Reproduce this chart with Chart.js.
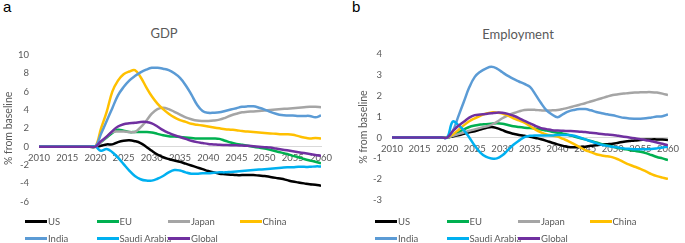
<!DOCTYPE html>
<html><head><meta charset="utf-8">
<script src="https://cdn.jsdelivr.net/npm/chart.js@4"></script>
<style>
html,body{margin:0;padding:0;background:#fff;width:685px;height:243px;overflow:hidden;font-family:Lato,sans-serif;position:relative;}
canvas{position:absolute;top:0;}
.lbl{position:absolute;top:-2px;font-family:'Liberation Sans',Arial,sans-serif;font-size:15px;color:#000;}
.ttl{position:absolute;font-size:13px;color:#595959;transform:translate(-50%,-50%);white-space:nowrap;font-family:Lato,sans-serif;}
.leg{position:absolute;height:12px;font-size:9.5px;color:#595959;white-space:nowrap;display:flex;align-items:center;font-family:Lato,sans-serif;}
.leg i{display:inline-block;width:22px;height:3px;margin-right:1px;}
</style></head><body>
<div class="lbl" style="left:3px">a</div>
<div class="lbl" style="left:352px">b</div>
<div class="ttl" style="left:164px;top:33px">GDP</div>
<div class="ttl" style="left:518px;top:34px">Employment</div>
<canvas id="cA" width="342" height="243" style="left:0"></canvas>
<canvas id="cB" width="343" height="243" style="left:342px"></canvas>
<div id="legA"></div><div id="legB"></div>
<script>
const years = [2010,2011,2012,2013,2014,2015,2016,2017,2018,2019,2020,2021,2022,2023,2024,2025,2026,2027,2028,2029,2030,2031,2032,2033,2034,2035,2036,2037,2038,2039,2040,2041,2042,2043,2044,2045,2046,2047,2048,2049,2050,2051,2052,2053,2054,2055,2056,2057,2058,2059,2060];
const seriesNames = ['US','EU','Japan','China','India','Saudi Arabia','Global'];
const seriesColors = ['#000000','#00B050','#A5A5A5','#FFC000','#5B9BD5','#00B0F0','#7030A0'];
const yTitle = '% from baseline';

// GDP (% from baseline)
const gdpUS     = [0,0,0,0,0,0,0,0,0,0,0, 0.1,0.25,0.25,0.5,0.65,0.7,0.6,0.4,0.0,-0.45, -0.85,-1.15,-1.35,-1.5,-1.65,-1.85,-2.05,-2.25,-2.45,-2.65, -2.8,-2.95,-3.0,-3.05,-3.1,-3.1,-3.1,-3.1,-3.15,-3.2, -3.3,-3.4,-3.5,-3.65,-3.8,-3.9,-4.0,-4.1,-4.15,-4.25];
const gdpEU     = [0,0,0,0,0,0,0,0,0,0,0, 0.5,1.0,1.5,1.85,1.75,1.6,1.6,1.6,1.6,1.55, 1.4,1.25,1.15,1.1,1.05,1.0,0.95,0.9,0.9,0.9, 0.9,0.85,0.65,0.45,0.3,0.2,0.1,0.0,-0.1,-0.2, -0.35,-0.5,-0.65,-0.8,-1.0,-1.15,-1.35,-1.5,-1.65,-1.8];
const gdpJapan  = [0,0,0,0,0,0,0,0,0,0,0, 0.5,1.1,1.6,1.65,1.65,1.6,1.6,2.1,2.8,3.6, 4.1,4.25,4.1,3.8,3.5,3.2,3.0,2.85,2.8,2.8, 2.85,2.95,3.15,3.4,3.6,3.75,3.8,3.85,3.9,3.95, 4.0,4.05,4.1,4.15,4.2,4.25,4.3,4.35,4.35,4.3];
const gdpChina  = [0,0,0,0,0,0,0,0,0,0,0, 2.0,3.8,6.0,7.2,7.9,8.2,8.35,7.6,6.5,5.5, 4.7,4.1,3.6,3.2,2.9,2.7,2.5,2.4,2.3,2.2, 2.1,2.0,1.9,1.85,1.8,1.7,1.65,1.6,1.55,1.5, 1.45,1.4,1.35,1.35,1.3,1.15,1.0,0.9,0.95,0.9];
const gdpIndia  = [0,0,0,0,0,0,0,0,0,0,0, 1.4,2.8,4.2,5.6,6.5,7.2,7.7,8.1,8.4,8.6, 8.6,8.5,8.35,8.0,7.5,6.7,5.7,4.6,3.9,3.7, 3.7,3.75,3.9,4.05,4.2,4.35,4.4,4.4,4.25,4.05, 3.8,3.6,3.45,3.4,3.4,3.35,3.35,3.35,3.2,3.4];
const gdpSaudi  = [0,0,0,0,0,0,0,0,0,0,0, -0.45,-0.25,-0.6,-1.2,-1.9,-2.6,-3.2,-3.55,-3.7,-3.7, -3.5,-3.2,-2.8,-2.55,-2.6,-2.8,-2.95,-2.95,-2.9,-2.9, -2.85,-2.8,-2.8,-2.75,-2.7,-2.65,-2.6,-2.55,-2.5,-2.45, -2.4,-2.35,-2.3,-2.25,-2.25,-2.2,-2.2,-2.2,-2.15,-2.15];
const gdpGlobal = [0,0,0,0,0,0,0,0,0,0,0, 0.6,1.1,1.7,2.2,2.45,2.55,2.6,2.7,2.7,2.55, 2.2,1.8,1.5,1.25,1.05,0.85,0.65,0.5,0.4,0.3, 0.25,0.2,0.18,0.16,0.15,0.12,0.1,0.05,0.0,-0.05, -0.1,-0.2,-0.3,-0.4,-0.5,-0.6,-0.7,-0.8,-0.9,-1.0];

// Employment (% from baseline)
const empUS     = [0,0,0,0,0,0,0,0,0,0,0, 0.05,0.1,0.18,0.25,0.3,0.38,0.45,0.5,0.45,0.35, 0.25,0.18,0.12,0.08,0.04,-0.02,-0.08,-0.16,-0.25,-0.33, -0.4,-0.46,-0.47,-0.46,-0.44,-0.4,-0.37,-0.34,-0.32,-0.3, -0.25,-0.2,-0.17,-0.14,-0.12,-0.1,-0.09,-0.09,-0.1,-0.12];
const empEU     = [0,0,0,0,0,0,0,0,0,0,0, 0.1,0.25,0.38,0.5,0.57,0.62,0.64,0.66,0.68,0.66, 0.6,0.54,0.5,0.47,0.45,0.42,0.38,0.33,0.28,0.23, 0.18,0.12,0.05,-0.02,-0.09,-0.17,-0.24,-0.32,-0.38,-0.44, -0.5,-0.55,-0.6,-0.64,-0.68,-0.75,-0.84,-0.93,-1.0,-1.08];
const empJapan  = [0,0,0,0,0,0,0,0,0,0,0, 0.08,0.16,0.24,0.32,0.39,0.46,0.53,0.6,0.75,0.92, 1.05,1.16,1.25,1.32,1.33,1.32,1.3,1.29,1.3,1.32, 1.37,1.43,1.5,1.57,1.64,1.72,1.8,1.88,1.96,2.03, 2.07,2.1,2.13,2.15,2.16,2.17,2.17,2.15,2.1,2.03];
const empChina  = [0,0,0,0,0,0,0,0,0,0,0, 0.15,0.35,0.58,0.78,0.92,1.04,1.14,1.2,1.19,1.15, 1.05,0.92,0.82,0.71,0.55,0.38,0.25,0.15,0.09,0.04, -0.07,-0.18,-0.32,-0.46,-0.6,-0.7,-0.8,-0.86,-0.9,-0.95, -1.05,-1.18,-1.3,-1.4,-1.5,-1.62,-1.75,-1.85,-1.92,-1.98];
const empIndia  = [0,0,0,0,0,0,0,0,0,0,0, 0.3,1.0,1.7,2.4,2.9,3.15,3.3,3.38,3.3,3.12, 2.95,2.8,2.68,2.56,2.42,2.05,1.65,1.3,1.1,0.97, 1.12,1.25,1.32,1.36,1.36,1.3,1.22,1.16,1.11,1.06, 1.0,0.94,0.91,0.9,0.9,0.92,0.96,1.0,1.02,1.1];
const empSaudi  = [0,0,0,0,0,0,0,0,0,0,0, 0.76,0.6,0.35,0.0,-0.4,-0.72,-0.92,-1.0,-1.0,-0.85, -0.6,-0.35,-0.15,0.02,0.08,0.1,0.1,0.1,0.1,0.12, 0.12,0.12,0.08,0.0,-0.09,-0.18,-0.27,-0.35,-0.4,-0.44, -0.48,-0.52,-0.54,-0.56,-0.56,-0.56,-0.55,-0.52,-0.48,-0.44];
const empGlobal = [0,0,0,0,0,0,0,0,0,0,0, 0.3,0.55,0.75,0.95,1.07,1.1,1.13,1.16,1.19,1.18, 1.13,1.04,0.93,0.8,0.68,0.55,0.45,0.4,0.35,0.33, 0.32,0.31,0.3,0.28,0.26,0.23,0.2,0.17,0.14,0.12, 0.08,0.04,0.0,-0.04,-0.08,-0.13,-0.18,-0.24,-0.3,-0.37];

const gdpSeries = [gdpUS,gdpEU,gdpJapan,gdpChina,gdpIndia,gdpSaudi,gdpGlobal];
const empSeries = [empUS,empEU,empJapan,empChina,empIndia,empSaudi,empGlobal];

const GREY = '#595959';
const tickFont = {family:'Lato', size:9.5};

function makeChart(id, series, yMin, yMax, yStep, pad, axisW, titlePad) {
  return new Chart(document.getElementById(id), {
    type: 'line',
    data: {
      datasets: seriesNames.map((n, i) => ({
        label: n,
        data: years.map((yr, k) => ({x: yr, y: series[i][k]})),
        borderColor: seriesColors[i],
        backgroundColor: seriesColors[i],
        borderWidth: 2.5,
        pointRadius: 0,
        tension: 0.4,
        fill: false,
        order: seriesNames.length - i
      }))
    },
    options: {
      responsive: false, animation: false, devicePixelRatio: 1,
      layout: {padding: pad},
      plugins: {legend: {display: false}, tooltip: {enabled: false}, title: {display: false}},
      scales: {
        x: {
          type: 'linear', min: 2010, max: 2060, position: {y: 0},
          grid: {display: false, drawTicks: false},
          border: {display: true, color: '#D9D9D9', width: 1},
          ticks: {stepSize: 5, padding: 6, color: GREY, font: tickFont, maxRotation: 0, autoSkip: false,
                  callback: v => String(v)}
        },
        y: {
          min: yMin, max: yMax,
          grid: {display: false, drawTicks: false},
          border: {display: false},
          ticks: {stepSize: yStep, padding: 10, color: GREY, font: tickFont},
          title: {display: true, text: yTitle, color: GREY, font: {family: 'Lato', size: 10.5}, padding: {top: titlePad, bottom: 0}},
          afterFit: s => { s.width = axisW; }
        }
      }
    }
  });
}

makeChart('cA', gdpSeries, -6, 10, 2, {left: 0, right: 21, top: 55, bottom: 41.3}, 39, 2);
makeChart('cB', empSeries, -3, 4, 1, {left: 0, right: 12, top: 53.9, bottom: 42.8}, 50, 15);

function buildLegend(id, baseX) {
  const el = document.getElementById(id);
  seriesNames.forEach((n, i) => {
    const row = i < 4 ? 0 : 1;
    const col = i < 4 ? i : i - 4;
    const d = document.createElement('div');
    d.className = 'leg';
    d.style.left = (baseX + col * 71.5) + 'px';
    d.style.top = (row === 0 ? 215 : 232) + 'px';
    const sw = document.createElement('i');
    sw.style.background = seriesColors[i];
    d.appendChild(sw);
    d.appendChild(document.createTextNode(n));
    el.appendChild(d);
  });
}
buildLegend('legA', 25);
buildLegend('legB', 375);
</script>
</body></html>
